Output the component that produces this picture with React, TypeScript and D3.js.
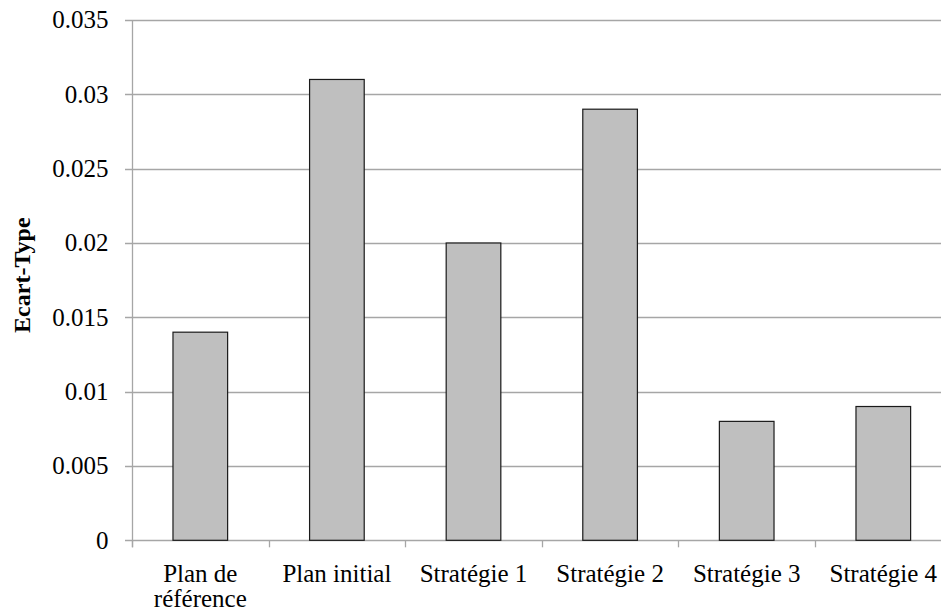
import React from "react";
import * as d3 from "d3";

const categories: string[][] = [
  ["Plan de", "référence"],
  ["Plan initial"],
  ["Stratégie 1"],
  ["Stratégie 2"],
  ["Stratégie 3"],
  ["Stratégie 4"],
];
const values: number[] = [0.014, 0.031, 0.02, 0.029, 0.008, 0.009];
const yTicks: number[] = [0, 0.005, 0.01, 0.015, 0.02, 0.025, 0.03, 0.035];
const yTickLabels: string[] = ["0", "0.005", "0.01", "0.015", "0.02", "0.025", "0.03", "0.035"];
const yTitle = "Ecart-Type";

const W = 941;
const H = 612;
const left = 132;
const step = 136.6;
const top = 20;
const bottom = 540.3;
const font = "'Liberation Serif', 'Times New Roman', serif";

export default function App() {
  const ids = categories.map((_, i) => String(i));
  const x = d3
    .scaleBand<string>()
    .domain(ids)
    .range([left, left + step * categories.length])
    .paddingInner(0.6)
    .paddingOuter(0.3);
  const y = d3.scaleLinear().domain([0, 0.035]).range([bottom, top]);
  const grid = "#a6a6a6";

  return (
    <svg
      width={W}
      height={H}
      style={{ position: "absolute", left: 0, top: 0, background: "#fff", overflow: "hidden" }}
      fontFamily={font}
    >
      <rect x={0} y={0} width={W} height={H} fill="#fff" />
      {yTicks.map((t, i) => (
        <g key={i}>
          <line x1={125} x2={W} y1={Math.round(y(t)) + 0.5} y2={Math.round(y(t)) + 0.5} stroke={grid} strokeWidth={1.3} />
          <text x={108.5} y={y(t)} dy="0.33em" textAnchor="end" fontSize={25} fill="#000">
            {yTickLabels[i]}
          </text>
        </g>
      ))}
      <line x1={left + 0.5} x2={left + 0.5} y1={top} y2={bottom + 7} stroke={grid} strokeWidth={1.3} />
      {categories.map((_, i) => {
        const tx = Math.round(left + i * step) + 0.5;
        return <line key={"t" + i} x1={tx} x2={tx} y1={bottom} y2={bottom + 7} stroke={grid} strokeWidth={1.3} />;
      })}
      {values.map((v, i) => (
        <rect
          key={"b" + i}
          x={x(ids[i])!}
          y={y(v)}
          width={x.bandwidth()}
          height={y(0) - y(v)}
          fill="#bfbfbf"
          stroke="#1a1a1a"
          strokeWidth={1.2}
        />
      ))}
      {categories.map((lines, i) => (
        <text key={"c" + i} x={x(ids[i])! + x.bandwidth() / 2} y={582} textAnchor="middle" fontSize={25} fill="#000">
          {lines.map((l, j) => (
            <tspan key={j} x={x(ids[i])! + x.bandwidth() / 2} dy={j === 0 ? 0 : 25}>
              {l}
            </tspan>
          ))}
        </text>
      ))}
      <text
        transform={`translate(30,${(top + bottom) / 2 - 5}) rotate(-90)`}
        textAnchor="middle"
        fontSize={24}
        fontWeight="bold"
        fill="#000"
      >
        {yTitle}
      </text>
    </svg>
  );
}
